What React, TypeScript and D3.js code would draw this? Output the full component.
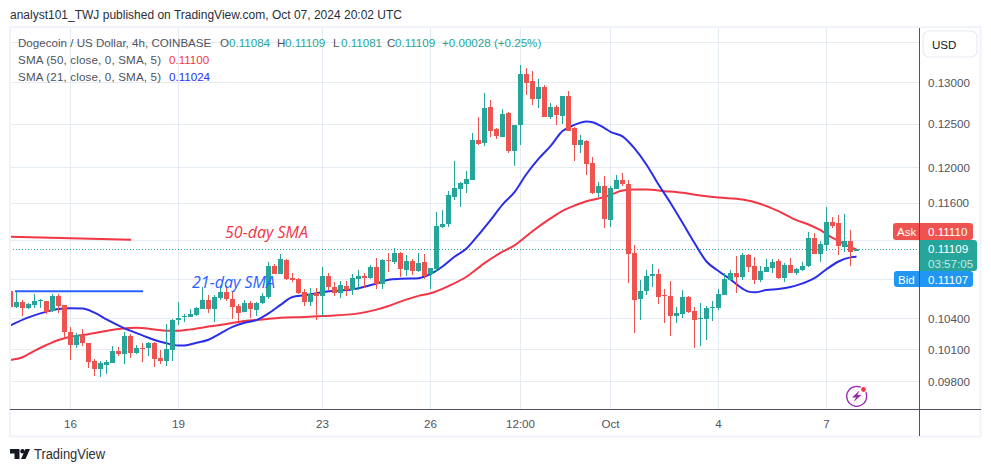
import React from "react";
import * as d3 from "d3";

// all prices in units of 0.00001 USD; candle slot -1 is the first (clipped) candle
const UNIT = 1e-5;
const FIRST_SLOT = -1;
const LAST_SLOT = 140;

const candleOpen = [
10673,10510,10564,10507,10537,10580,10577,10474,10624,10530,10270,10142,10235,10158,9990,9915,9956,9972,10081,10056,10229,10066,10113,10113,10164,10019,9990,10094,10384,10417,10414,10434,10494,10584,10494,10604,10663,10594,10524,10464,10554,10484,10554,10610,10929,10845,10991,10803,10793,10663,10564,10653,10624,10824,
10713,10654,10723,10684,10793,10825,10803,10919,10743,10993,10972,11067,10888,10982,10877,10972,10846,10898,11344,11366,11670,11759,11815,11859,12306,12271,12706,12434,12349,12635,12178,12481,13103,13016,12802,12944,12587,12706,12599,12837,12446,12248,12294,12050,11704,11782,11409,11759,11859,11815,11067,10594,10673,10825,10846,10634,10624,10423,10444,10614,10474,10394,10394,10503,10503,10634,10783,10856,10814,11046,10930,10783,10867,10909,10982,10803,10940,10856,10888,10930,11225,11056,11151,11398,11377,11130,11193,11084];
const candleClose = [
10510,10564,10507,10544,10570,10587,10467,10624,10524,10267,10142,10235,10164,9981,9915,9972,9981,10081,10056,10229,10066,10113,10106,10161,10009,9994,10100,10384,10403,10424,10444,10504,10584,10494,10610,10663,10594,10514,10454,10554,10494,10554,10624,10929,10845,11002,10793,10783,10653,10564,10643,10627,10824,10713,
10654,10733,10684,10803,10825,10803,10919,10743,10993,10982,11067,10898,10982,10877,10961,10825,10909,11355,11376,11682,11770,11826,11870,12306,12260,12695,12422,12353,12623,12178,12492,13103,12992,12802,12944,12587,12706,12611,12837,12422,12248,12306,12039,11704,11782,11420,11770,11859,11804,11056,10584,10673,10825,10846,10614,10624,10423,10453,10614,10464,10384,10403,10503,10514,10643,10793,10856,10814,11046,10919,10783,10877,10919,10972,10803,10940,10856,10898,10930,11225,11056,11161,11398,11355,11140,11193,11077,11109];
const candleHigh = [
10700,10667,10584,10557,10640,10594,10577,10640,10643,10534,10317,10261,10293,10164,10006,9994,10000,10129,10126,10264,10245,10142,10158,10171,10167,10094,10342,10390,10564,10440,10490,10510,10710,10630,10634,10723,10723,10673,10547,10584,10574,10567,10653,10967,10949,11054,11002,10855,10803,10693,10703,10700,10918,10855,
10760,10773,10773,10846,10888,10856,10940,11014,11003,11067,11119,11077,11046,11003,11067,11056,10909,11506,11528,11737,12074,11837,11959,12387,12587,12873,12789,12457,12683,12647,12492,13213,13176,13140,13041,12968,12754,12730,12837,12897,12469,12364,12306,12120,11837,11904,11782,11915,11937,11859,11151,10783,10888,10951,10898,10693,10773,10514,10683,10624,10514,10553,10523,10574,10693,10856,10888,11035,11067,11056,11024,10930,11003,11003,11003,10961,11014,10909,10972,11290,11279,11193,11550,11452,11463,11474,11312,11109];
const candleLow = [
10500,10500,10424,10494,10504,10504,10444,10460,10450,10216,10000,10113,10132,9928,9850,9840,9868,9972,10037,9962,10019,10056,9984,10037,9937,9962,9944,9994,10335,10364,10410,10424,10494,10454,10364,10584,10574,10394,10374,10464,10404,10424,10544,10594,10845,10845,10783,10763,10643,10524,10524,10384,10424,10683,
10624,10604,10624,10634,10684,10703,10793,10693,10693,10867,10951,10814,10825,10835,10867,10793,10693,10867,11333,11344,11637,11550,11704,11859,12248,12236,12341,12318,12341,12155,12016,12248,12849,12730,12695,12587,12563,12492,12504,12422,12073,12155,11915,11693,11670,11323,11344,11759,11782,10753,10257,10384,10634,10713,10543,10355,10229,10355,10403,10454,10113,10132,10190,10374,10483,10634,10773,10653,10783,10867,10743,10763,10867,10856,10793,10763,10856,10835,10877,10919,11056,10972,11088,11333,11046,11077,10930,11081];

const sma21Slots = [-1,2,5,7,9,11,13,15,18,21,23,25,27,28,30,32,34,36,38,40,42,44,46,48,50,51,56,60,62,64,67,69,71,73,75,77,79,81,83,85,87,89,91,93,95,96,98,99,101,103,105,107,109,111,113,115,117,119,121,122,123,125,127,129,131,133,135,137,139,140];
const sma21Values = [10332,10410,10467,10494,10500,10497,10457,10390,10303,10235,10190,10158,10138,10138,10164,10193,10255,10317,10357,10384,10450,10534,10613,10630,10650,10663,10690,10750,10787,10797,10803,10846,10923,11024,11112,11255,11413,11582,11719,11922,12093,12240,12415,12488,12528,12520,12450,12407,12353,12213,12027,11804,11600,11384,11168,10975,10877,10790,10697,10667,10660,10683,10693,10713,10750,10803,10895,10975,11018,11024];
const sma50Slots = [-1,1,3,5,7,9,11,14,17,20,23,25,27,29,32,35,38,41,44,48,51,57,60,62,64,67,69,72,75,78,81,83,86,89,91,93,95,97,99,101,103,105,108,111,114,117,121,124,127,130,132,134,136,137,138,139,140];
const sma50Values = [10000,10025,10087,10142,10190,10222,10238,10268,10297,10310,10293,10280,10280,10293,10320,10346,10374,10390,10407,10414,10423,10450,10487,10523,10567,10624,10650,10723,10818,10958,11077,11144,11294,11431,11514,11571,11619,11648,11689,11737,11748,11748,11730,11711,11681,11659,11637,11589,11510,11413,11366,11305,11222,11193,11155,11125,11100];

const drawnRedSlots = [-1,19.1];
const drawnRedValues = [11236,11203];
const drawnBlueSlots = [-0.25,21.1];
const drawnBlueValues = [10672,10672];

const gridPrices = [0.135,0.13,0.125,0.12,0.116,0.112,0.108,0.104,0.101,0.098];
const labelPrices = [0.13,0.125,0.12,0.116,0.104,0.101,0.098];
const timeSlots = [9,27,51,69,84,99,117,135];
const timeLabels = ["16","19","23","26","12:00","Oct","4","7"];
const lastPrice = 0.11109;

const W = 991, H = 472;
const plotL = 10, plotR = 919, plotT = 28, plotB = 409;
const GREEN = "#26a69a", RED = "#ef5350", GRID = "#e4ebf2", TXT = "#50535e";
const FONT = "'Liberation Sans', Arial, sans-serif";

const x = d3.scaleLinear().domain([FIRST_SLOT, LAST_SLOT]).range([10.5, 856.5]);
const y = d3.scaleLog().domain([0.098, 0.13]).range([381.3, 82.4]);

function smaPath(slots: number[], values: number[]) {
  const gen = d3.line<number>()
    .x((_, i) => x(slots[i]))
    .y((v) => y(v * UNIT))
    .curve(d3.curveMonotoneX);
  return gen(values) || "";
}

export default function App() {
  const py = (p: number) => Math.round(y(p)) + 0.5;
  return (
    <svg width={W} height={H} style={{ position: "absolute", left: 0, top: 0, background: "#fff", fontFamily: FONT }}>
      <defs>
        <clipPath id="plot"><rect x={plotL} y={plotT} width={plotR - plotL} height={plotB - plotT} /></clipPath>
      </defs>
      <text x={10} y={19} fontSize={12} fill="#2a2e39">analyst101_TWJ published on TradingView.com, Oct 07, 2024 20:02 UTC</text>

      {gridPrices.map((p) => (
        <line key={p} x1={plotL} x2={plotR} y1={py(p)} y2={py(p)} stroke={GRID} />
      ))}
      {timeSlots.map((s) => (
        <line key={s} x1={x(s)} x2={x(s)} y1={plotT} y2={plotB} stroke={GRID} />
      ))}

      <line x1={plotL} x2={plotR} y1={py(lastPrice)} y2={py(lastPrice)} stroke={GREEN} strokeDasharray="1 2" />

      <g clipPath="url(#plot)">
        <path d={smaPath(sma50Slots, sma50Values)} fill="none" stroke="#f23645" strokeWidth={2} />
        <path d={smaPath(sma21Slots, sma21Values)} fill="none" stroke="#2a2ee8" strokeWidth={2} />
        <path d={smaPath(drawnRedSlots, drawnRedValues)} fill="none" stroke="#f23645" strokeWidth={2} />
        <path d={smaPath(drawnBlueSlots, drawnBlueValues)} fill="none" stroke="#2962ff" strokeWidth={2} />
        {candleOpen.map((o, i) => {
          const cx = x(i + FIRST_SLOT);
          const c = candleClose[i];
          const col = c >= o ? GREEN : RED;
          const top = Math.round(y(Math.max(o, c) * UNIT));
          const bot = Math.round(y(Math.min(o, c) * UNIT));
          const hi = Math.round(y(candleHigh[i] * UNIT));
          const lo = Math.round(y(candleLow[i] * UNIT));
          return (
            <g key={i} fill={col}>
              <rect x={cx - 0.5} width={1} y={hi} height={Math.max(lo - hi, 1)} />
              <rect x={cx - 2.5} width={5} y={top} height={Math.max(bot - top, 1)} />
            </g>
          );
        })}
      </g>

      <text x={225} y={238} fontSize={16} fontStyle="italic" fill="#f23645" fontFamily="'Open Sans', sans-serif">50-day SMA</text>
      <text x={192} y={288} fontSize={16} fontStyle="italic" fill="#2962ff" fontFamily="'Open Sans', sans-serif">21-day SMA</text>

      <g fontSize={11.6} dominantBaseline="central">
        <text x={18} y={42} fill={TXT}>Dogecoin / US Dollar, 4h, COINBASE</text>
        <text x={220} y={42} fill={TXT}>O</text><text x={229} y={42} fill={GREEN}>0.11084</text>
        <text x={277} y={42} fill={TXT}>H</text><text x={285} y={42} fill={GREEN}>0.11109</text>
        <text x={333} y={42} fill={TXT}>L</text><text x={341} y={42} fill={GREEN}>0.11081</text>
        <text x={387} y={42} fill={TXT}>C</text><text x={395} y={42} fill={GREEN}>0.11109</text>
        <text x={442} y={42} fill={GREEN}>+0.00028 (+0.25%)</text>
        <text x={18} y={59} fill={TXT} textLength={143}>SMA (50, close, 0, SMA, 5)</text><text x={169} y={59} fill="#f23645">0.11100</text>
        <text x={18} y={76} fill={TXT} textLength={143}>SMA (21, close, 0, SMA, 5)</text><text x={169} y={76} fill="#2a2eff">0.11024</text>
      </g>

      {/* lightning icon */}
      <g>
        <circle cx={856.7} cy={396.3} r={10} fill="#fff" stroke="#9c27b0" strokeWidth={1.3} />
        <path d="M859.5 390.5 L852 397.5 L856 397.5 L853.5 402 L861.5 395 L857.5 395 Z" fill="#9c27b0" />
        <circle cx={863.5} cy={389.5} r={3.4} fill="#fff" />
        <circle cx={863.5} cy={389.5} r={2.4} fill="#f23645" />
      </g>

      {/* frame */}
      <rect x={10} y={27} width={970.5} height={409.5} fill="none" stroke="#f0f3fa" strokeWidth={2} />
      <line x1={919.5} x2={919.5} y1={28} y2={436} stroke="#50535e" />
      <line x1={10} x2={981} y1={409.5} y2={409.5} stroke="#50535e" />

      {/* price axis */}
      <g fontSize={11.6} fill={TXT} dominantBaseline="central">
        {labelPrices.map((p) => (
          <text key={p} x={928} y={y(p)}>{p.toFixed(5)}</text>
        ))}
      </g>
      <rect x={923} y={31} width={54} height={26} rx={6} fill="#fff" stroke="#e9ecf2" strokeWidth={1.2} />
      <text x={932} y={44} fontSize={11.6} fill="#131722" dominantBaseline="central">USD</text>

      <g fontSize={11.6} dominantBaseline="central">
        <rect x={893} y={223} width={80} height={17} rx={3} fill={RED} />
        <text x={897} y={231.5} fill="#fff">Ask</text>
        <text x={928} y={231.5} fill="#fff">0.11110</text>
        <rect x={894} y={271} width={79} height={16} rx={3} fill="#2196f3" />
        <text x={898} y={279} fill="#fff">Bid</text>
        <text x={928} y={279} fill="#fff">0.11107</text>
        <path d="M919.5 240 H974 a3 3 0 0 1 3 3 V268 a3 3 0 0 1 -3 3 H919.5 Z" fill={GREEN} />
        <text x={928} y={248} fill="#fff">{lastPrice.toFixed(5)}</text>
        <text x={928} y={263} fill="#fff" fillOpacity={0.75}>03:57:05</text>
      </g>
      <line x1={919.5} x2={919.5} y1={222} y2={288} stroke="#50535e" />

      {/* time axis */}
      <g fontSize={11.6} fill={TXT} textAnchor="middle" dominantBaseline="central">
        {timeLabels.map((t, i) => (
          <text key={t} x={x(timeSlots[i])} y={423}>{t}</text>
        ))}
      </g>

      {/* footer */}
      <g fill="#131722">
        <path d="M10 449 H19.5 V459 H14.5 V453.5 H10 Z" />
        <circle cx={22.5} cy={451.3} r={2.2} />
        <path d="M25.5 449 H30 L25.5 459 H21 Z" />
      </g>
      <text x={34} y={459} fontSize={14} fill="#2a2e39" textLength={71} lengthAdjust="spacingAndGlyphs">TradingView</text>
    </svg>
  );
}
